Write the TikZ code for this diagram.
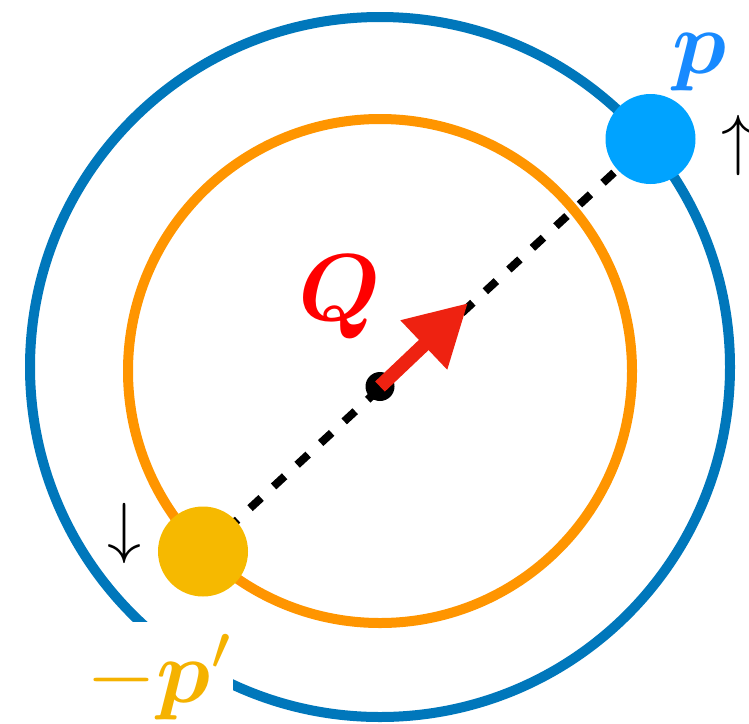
\documentclass[tikz,border=0pt]{standalone}
\usepackage{bm}
\usetikzlibrary{arrows.meta}
\definecolor{ringblue}{RGB}{0,119,187}
\definecolor{ringorange}{RGB}{255,149,0}
\definecolor{dotblue}{RGB}{0,163,255}
\definecolor{dotgold}{RGB}{246,185,0}
\definecolor{plabel}{RGB}{24,138,255}
\definecolor{pplabel}{RGB}{245,178,0}
\definecolor{arrowred}{RGB}{238,34,17}
\definecolor{qred}{RGB}{255,0,0}
\begin{document}
\begin{tikzpicture}[x=1pt,y=-1pt,
  ring/.style={line width=10pt},
  particle/.style={circle, inner sep=0pt, minimum size=90pt},
  dashline/.style={line width=8pt, dash pattern=on 15pt off 17pt},
  bigfont/.style={font=\fontsize{10}{12}\selectfont, scale=9, inner sep=0pt},
  arrowfont/.style={font=\fontsize{10}{12}\selectfont, scale=6.8, inner sep=0pt}]
\useasboundingbox (0,0) rectangle (749,723);
\draw[ring, ringblue] (380,367) circle[radius=350];
\draw[ring, ringorange] (380,371) circle[radius=252];
\fill[white] (85,622) rectangle (233,740);
\coordinate (A) at (203,551.5);
\coordinate (B) at (650.5,139);
\draw[dashline] (A) -- (B);
\node[particle, fill=dotgold] (pm) at (A) {};
\node[particle, fill=dotblue] (pp) at (B) {};
\node[circle, fill=black, inner sep=0pt, minimum size=29pt] (o) at (380,386.5) {};
\coordinate (tip) at (468,303);
\draw[arrowred, line width=14pt, -{Triangle[length=61pt,width=64pt]}] (o.center) -- (tip);
\node[bigfont, text=qred, anchor=base, scale=9.5/9] (Q) at (340,320) {$\bm{Q}$};
\node[bigfont, text=plabel, anchor=base] (lp) at (700,73) {$\bm{p}$};
\node[bigfont, text=pplabel, anchor=base] (lpm) at (161,702) {$-\bm{p}'$};
\node[arrowfont] (dn) at (124,533) {$\downarrow$};
\node[arrowfont] (up) at (738,145) {$\uparrow$};
\end{tikzpicture}
\end{document}
